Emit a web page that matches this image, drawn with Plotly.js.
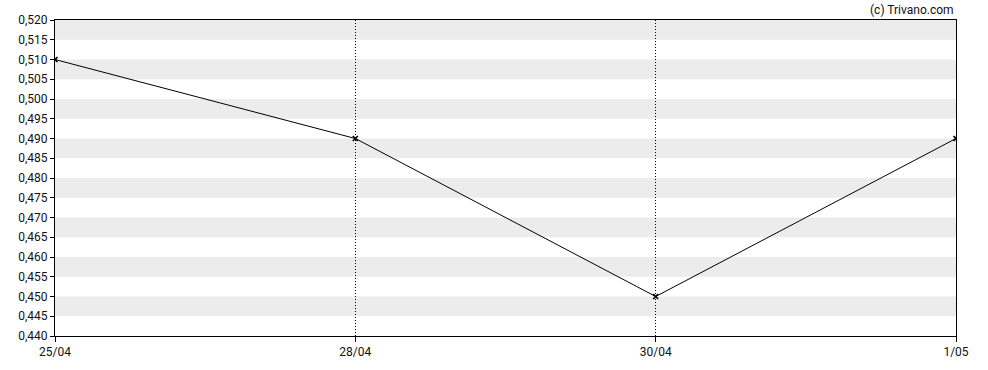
<!DOCTYPE html>
<html>
<head>
<meta charset="utf-8">
<script src="https://cdn.plot.ly/plotly-3.0.1.min.js"></script>
<style>html,body{margin:0;padding:0;background:#fff;}#chart{width:988px;height:370px;}</style>
</head>
<body>
<div id="chart"></div>
<script>
const dates = ["25/04", "28/04", "30/04", "1/05"];
const prices = [0.510, 0.490, 0.450, 0.490];
const yMin = 0.440, yMax = 0.520, yStep = 0.005;

const shapes = [];
for (let k = 0; yMax - (k + 1) * yStep >= yMin - 1e-9; k += 2) {
  shapes.push({type: 'rect', xref: 'paper', yref: 'y', x0: 0, x1: 1,
    y0: yMax - (k + 1) * yStep, y1: yMax - k * yStep,
    fillcolor: '#ececec', line: {width: 0}, layer: 'below'});
}

const trace = {
  x: dates, y: prices, type: 'scatter', mode: 'lines+markers',
  line: {color: '#000', width: 1},
  marker: {symbol: 'x-thin', size: 5, color: '#000', line: {color: '#000', width: 1.6}},
  hoverinfo: 'skip'
};

const layout = {
  width: 988, height: 370,
  margin: {l: 55, r: 32, t: 20, b: 34},
  paper_bgcolor: '#fff', plot_bgcolor: 'rgba(0,0,0,0)',
  font: {family: 'Roboto, Arial, sans-serif', size: 12, color: '#111'},
  separators: ', ',
  showlegend: false,
  shapes: shapes,
  xaxis: {type: 'category', range: [0, dates.length - 1], showgrid: true,
    gridcolor: '#000', griddash: '1px,2px', gridwidth: 1,
    showline: true, linecolor: '#000', linewidth: 1, mirror: true,
    ticks: 'outside', ticklen: 5, tickcolor: '#000', zeroline: false, fixedrange: true},
  yaxis: {range: [yMin, yMax], dtick: yStep, tick0: yMin, tickformat: '.3f',
    showgrid: false, zeroline: false,
    showline: true, linecolor: '#000', linewidth: 1, mirror: true,
    ticks: 'outside', ticklen: 4, tickcolor: '#000', fixedrange: true},
  annotations: [{text: '(c) Trivano.com', xref: 'paper', yref: 'paper', x: 1, y: 1,
    xanchor: 'right', yanchor: 'bottom', showarrow: false, yshift: 1,
    font: {family: 'Roboto, Arial, sans-serif', size: 12, color: '#111'}}]
};

Plotly.newPlot('chart', [trace], layout, {staticPlot: true, displayModeBar: false});
</script>
</body>
</html>
